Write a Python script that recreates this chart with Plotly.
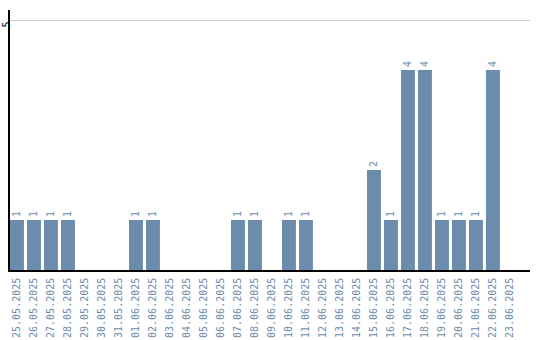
import plotly.graph_objects as go

dates = ["25.05.2025", "26.05.2025", "27.05.2025", "28.05.2025", "29.05.2025",
         "30.05.2025", "31.05.2025", "01.06.2025", "02.06.2025", "03.06.2025",
         "04.06.2025", "05.06.2025", "06.06.2025", "07.06.2025", "08.06.2025",
         "09.06.2025", "10.06.2025", "11.06.2025", "12.06.2025", "13.06.2025",
         "14.06.2025", "15.06.2025", "16.06.2025", "17.06.2025", "18.06.2025",
         "19.06.2025", "20.06.2025", "21.06.2025", "22.06.2025", "23.06.2025"]
counts = [1, 1, 1, 1, 0, 0, 0, 1, 1, 0, 0, 0, 0, 1, 1, 0, 1, 1, 0, 0, 0,
          2, 1, 4, 4, 1, 1, 1, 4, 0]
y_ticks = [5]

bar_color = "#6b8cac"
labels = [str(v) if v else "" for v in counts]

fig = go.Figure(go.Bar(
    x=list(range(len(dates))), y=counts, text=labels,
    textposition="outside", textangle=-90,
    textfont=dict(family="DejaVu Sans Mono", size=10, color=bar_color),
    marker=dict(color=bar_color, line=dict(width=0)),
    cliponaxis=False, width=0.82,
))

fig.update_layout(
    width=540, height=340,
    margin=dict(l=10, r=10, t=10, b=70),
    plot_bgcolor="white", paper_bgcolor="white",
    showlegend=False,
    xaxis=dict(
        tickmode="array", tickvals=list(range(len(dates))), ticktext=dates,
        tickangle=-90, range=[-0.41, 30.18], automargin=False,
        tickfont=dict(family="DejaVu Sans Mono", size=10, color=bar_color),
        showline=True, linecolor="black", linewidth=1.5,
        showgrid=False, ticks="", zeroline=False, ticklabelstandoff=2,
    ),
    yaxis=dict(
        range=[0, 5.2], tickvals=y_ticks, tickangle=-90, automargin=False,
        tickfont=dict(family="DejaVu Sans Mono", size=10, color="black"),
        showline=True, linecolor="black", linewidth=1.5,
        showgrid=True, gridcolor="#cccccc", gridwidth=1,
        ticks="", zeroline=False, ticklabelstandoff=-6, ticklabelshift=6,
    ),
)

fig.write_html("out.html")
